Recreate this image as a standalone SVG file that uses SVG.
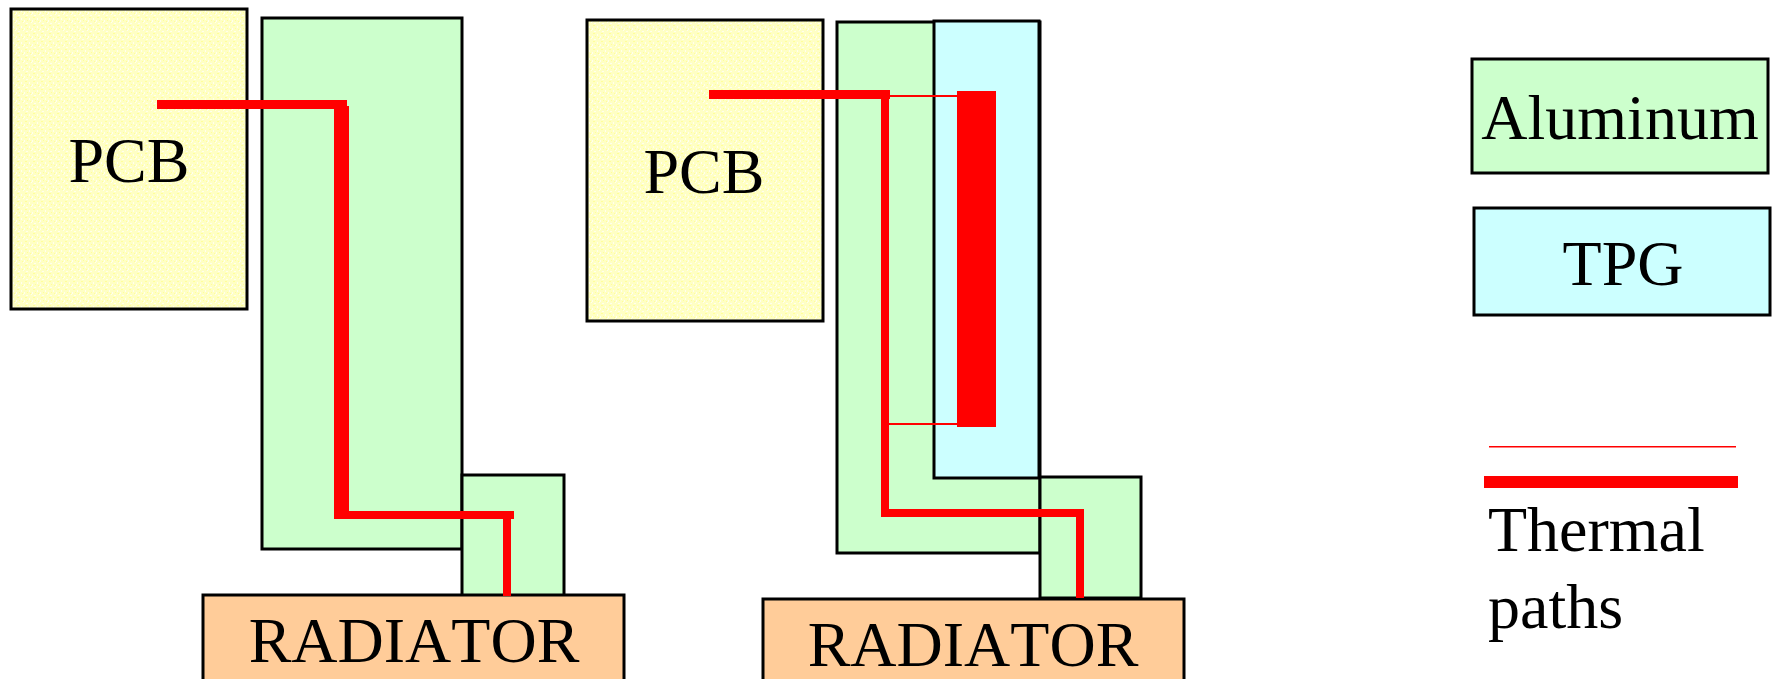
<svg xmlns="http://www.w3.org/2000/svg" width="1775" height="679" viewBox="0 0 1775 679">
<style>
.b{stroke:#000;stroke-width:3}
.al{fill:#ccffcc}.tpg{fill:#ccffff}.rad{fill:#ffcc99}.pcb{fill:url(#dots)}
text{font-family:"Liberation Serif","Times New Roman",serif;font-size:64px;font-kerning:none;fill:#000;text-anchor:middle}
.l{text-anchor:start}
.r{fill:#f00}
</style>
<defs>
<pattern id="dots" width="8" height="8" patternUnits="userSpaceOnUse">
<rect width="8" height="8" fill="#ffffc4"/>
<rect x="1" y="1" width="2" height="1" fill="#ffff99"/><rect x="5" y="2" width="1" height="2" fill="#ffffee"/>
<rect x="3" y="4" width="1" height="1" fill="#ffff99"/><rect x="7" y="6" width="1" height="1" fill="#ffffee"/>
<rect x="2" y="7" width="2" height="1" fill="#ffffee"/><rect x="6" y="5" width="1" height="1" fill="#ffff99"/>
<rect x="0" y="4" width="1" height="2" fill="#ffffee"/>
</pattern>
</defs>
<rect width="1775" height="679" fill="#fff"/>
<g id="pcb-left"><rect class="pcb b" x="11" y="9" width="236" height="300"/><text x="129" y="182">PCB</text></g>
<g id="aluminum-left"><rect class="al b" x="262" y="18" width="200" height="531"/></g>
<g id="aluminum-left-foot"><rect class="al b" x="462" y="475" width="102" height="121"/></g>
<g id="radiator-left"><rect class="rad b" x="203" y="595" width="421" height="90"/></g>
<g id="pcb-right"><rect class="pcb b" x="587" y="20" width="236" height="301"/><text x="704" y="193">PCB</text></g>
<g id="aluminum-right"><rect class="al b" x="837" y="22" width="203" height="531"/></g>
<g id="tpg-right"><rect class="tpg b" x="934" y="21" width="105" height="457"/></g>
<g id="aluminum-right-foot"><rect class="al b" x="1040" y="477" width="101" height="121"/></g>
<g id="radiator-right"><rect class="rad b" x="763" y="599" width="421" height="90"/></g>
<g id="legend-aluminum"><rect class="al b" x="1472" y="59" width="296" height="114"/><text x="1620" y="139">Aluminum</text></g>
<g id="legend-tpg"><rect class="tpg b" x="1474" y="208" width="296" height="107"/><text x="1623" y="285">TPG</text></g>
<text x="414" y="662">RADIATOR</text>
<text x="973" y="666">RADIATOR</text>
<g id="connectors">
<rect class="r" x="157" y="100" width="190" height="9"/>
<rect class="r" x="334" y="106" width="15" height="413"/>
<rect class="r" x="339" y="511" width="175" height="8"/>
<rect class="r" x="503" y="515" width="8" height="81"/>
<rect class="r" x="709" y="90" width="181" height="9"/>
<rect class="r" x="881" y="95" width="8" height="421"/>
<rect class="r" x="889" y="95" width="70" height="2"/>
<rect class="r" x="889" y="423" width="70" height="2"/>
<rect class="r" x="957" y="91" width="39" height="336"/>
<rect class="r" x="881" y="509" width="203" height="8"/>
<rect class="r" x="1076" y="509" width="8" height="89"/>
<rect class="r" x="1489" y="446" width="247" height="1.5"/>
<rect class="r" x="1484" y="476" width="254" height="12"/>
</g>
<g id="legend-label"><text class="l" x="1488" y="551">Thermal</text><text class="l" x="1488" y="628">paths</text></g>
</svg>
